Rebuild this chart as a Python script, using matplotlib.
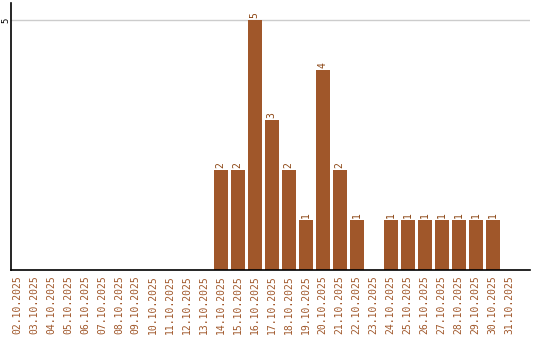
import matplotlib
matplotlib.use("Agg")
import matplotlib.pyplot as plt

dates = ["%02d.10.2025" % d for d in range(2, 32)]
counts = [0, 0, 0, 0, 0, 0, 0, 0, 0, 0, 0, 0,
          2, 2, 5, 3, 2, 1, 4, 2, 1, 0,
          1, 1, 1, 1, 1, 1, 1, 0]

bar_color = "#a0572a"
mono = "DejaVu Sans Mono"

fig = plt.figure(figsize=(5.4, 3.4), dpi=100)
ax = fig.add_axes([11 / 540, 70 / 340, 519 / 540, 267 / 340])

x = list(range(len(dates)))
ax.bar(x, counts, width=0.82, color=bar_color, zorder=2)

# etiquetas encima de las barras
for xi, v in zip(x, counts):
    if v > 0:
        ax.text(xi, v + 0.03, str(v), rotation=90, ha="center", va="bottom",
                fontsize=7, color="#8b4513", family=mono)

ax.set_xlim(-0.35, 30.2)
ax.set_ylim(0, 5.34)
ax.set_xticks(x)
ax.set_xticklabels(dates, rotation=90, fontsize=7, color=bar_color, family=mono)
ax.set_yticks([5])
ax.set_yticklabels(["5"], rotation=90, fontsize=6.5, va="center", ha="center",
                   family=mono)
ax.tick_params(axis="x", length=0, pad=4)
ax.tick_params(axis="y", length=0, pad=3.5)
ax.yaxis.grid(True, color="#cccccc", linewidth=1, zorder=0)

ax.spines["top"].set_visible(False)
ax.spines["right"].set_visible(False)
ax.spines["left"].set_linewidth(1.2)
ax.spines["bottom"].set_linewidth(1.2)

fig.savefig("out.png", dpi=100)
